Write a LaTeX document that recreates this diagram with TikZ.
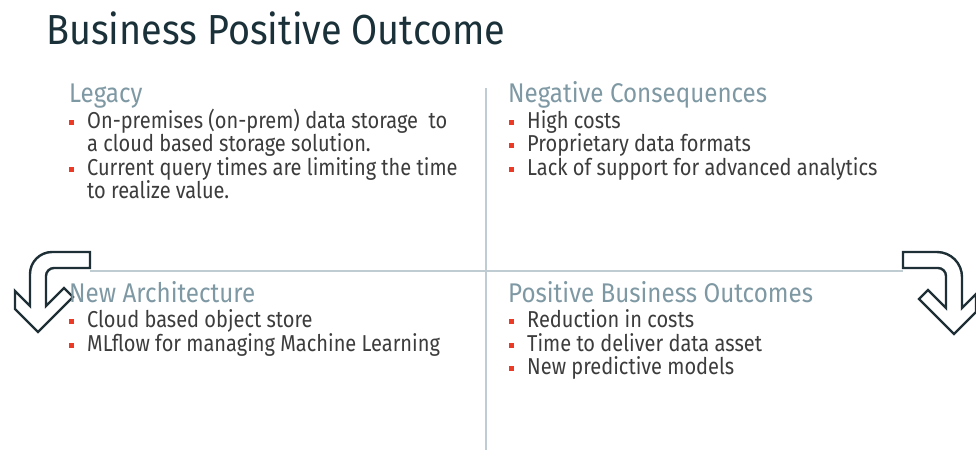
\documentclass[tikz,border=0pt]{standalone}
\usepackage{fontspec}
\setmainfont[FakeStretch=0.87]{Fira Sans}
\newfontfamily\titlefont[FakeStretch=0.90]{Fira Sans}
\newfontfamily\headfont[FakeStretch=0.895]{Fira Sans}
\definecolor{titlecol}{HTML}{1B3139}
\definecolor{headcol}{HTML}{7F99A4}
\definecolor{bodycol}{HTML}{3C3C3C}
\definecolor{bulletred}{HTML}{EB3B26}
\definecolor{linecol}{HTML}{BFCDD3}
\definecolor{arrowcol}{HTML}{1E2F36}
\begin{document}
\begin{tikzpicture}[x=1pt,y=-1pt,
  pagetitle/.style={anchor=base west, inner sep=0pt, text=titlecol, font=\titlefont\fontsize{42}{50}\selectfont},
  heading/.style={anchor=base west, inner sep=0pt, text=headcol, font=\headfont\fontsize{27}{32}\selectfont},
  item/.style={anchor=base west, inner sep=0pt, text=bodycol, font=\fontsize{23}{27}\selectfont},
  bulletsq/.style={fill=bulletred, draw=none, minimum size=5pt, inner sep=0pt},
  divider/.style={draw=linecol, line width=2pt},
  turnarrow/.style={draw=arrowcol, line width=2.4pt, line join=miter, fill=none}]
\useasboundingbox (0,0) rectangle (976,450);
\fill[white] (0,0) rectangle (976,450);

% title
\node[pagetitle] (title) at (46,44) {Business Positive Outcome};

% quadrant dividers
\coordinate (hl) at (90,271);
\coordinate (hr) at (903,271);
\coordinate (vt) at (486,88);
\coordinate (vb) at (486,450);
\draw[divider] (hl) -- (hr);
\draw[divider] (vt) -- (vb);

% turn arrow on the left, pointing down
\draw[turnarrow] (90,252) -- (52,252) .. controls (39.9,252) and (30,261.9) .. (30,274)
  -- (30,306) -- (15,291) -- (15,309) -- (38,332) -- (73,297) -- (64,288) -- (46,306)
  -- (46,276) .. controls (46,271.6) and (49.6,268) .. (54,268) -- (90,268) -- cycle;

% turn arrow on the right, pointing down
\draw[turnarrow] (903,252) -- (937,252) .. controls (950.8,252) and (962,263.2) .. (962,277)
  -- (962,308) -- (976,294) -- (976,312) -- (954,334) -- (919,299) -- (928,290) -- (946,308)
  -- (946,276) .. controls (946,271.6) and (942.4,268) .. (938,268) -- (903,268) -- cycle;

% Legacy
\node[heading] (legacy) at (69,102) {Legacy};
\node[bulletsq] (lb1) at (71.5,122) {};
\node[item] (l1) at (87,128) {On-premises (on-prem) data storage\ \ to};
\node[item] (l1b) at (87,151.5) {a cloud based storage solution.};
\node[bulletsq] (lb2) at (71.5,169) {};
\node[item] (l2) at (87,175) {Current query times are limiting the time};
\node[item] (l2b) at (87,198.5) {to realize value.};

% Negative Consequences
\node[heading] (negative) at (508,102) {Negative Consequences};
\node[bulletsq] (nb1) at (511.5,122) {};
\node[item] (n1) at (527,128) {High costs};
\node[bulletsq] (nb2) at (511.5,145.5) {};
\node[item] (n2) at (527,151.5) {Proprietary data formats};
\node[bulletsq] (nb3) at (511.5,169) {};
\node[item] (n3) at (527,175) {Lack of support for advanced analytics};

% New Architecture
\node[heading] (newarch) at (69,302) {New Architecture};
\node[bulletsq] (ab1) at (71.5,321.5) {};
\node[item] (a1) at (87,327.5) {Cloud based object store};
\node[bulletsq] (ab2) at (71.5,345) {};
\node[item] (a2) at (87,351) {MLflow for managing Machine Learning};

% Positive Business Outcomes
\node[heading] (positive) at (508,302) {Positive Business Outcomes};
\node[bulletsq] (pb1) at (511.5,321.5) {};
\node[item] (p1) at (527,327.5) {Reduction in costs};
\node[bulletsq] (pb2) at (511.5,345) {};
\node[item] (p2) at (527,351) {Time to deliver data asset};
\node[bulletsq] (pb3) at (511.5,368.5) {};
\node[item] (p3) at (527,374.5) {New predictive models};
\end{tikzpicture}
\end{document}
